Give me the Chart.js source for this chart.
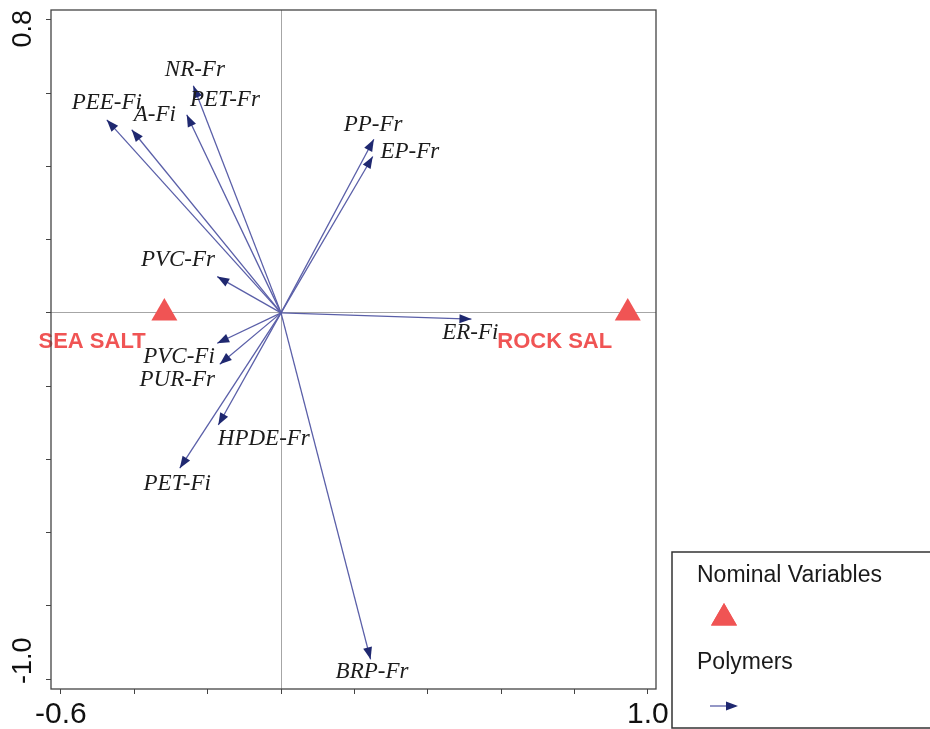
<!DOCTYPE html>
<html>
<head>
<meta charset="utf-8">
<script src="https://cdn.jsdelivr.net/npm/chart.js@4.4.1/dist/chart.umd.min.js"></script>
<style>
  html, body { margin: 0; padding: 0; background: #fff; }
  canvas { display: block; }
</style>
</head>
<body>
<canvas id="biplot" width="930" height="729"></canvas>
<script>
// polymer vectors (arrow tips) and where their names sit
const polymerNames = ['PEE-Fi', 'A-Fi', 'PET-Fr', 'NR-Fr', 'PVC-Fr', 'PVC-Fi', 'PUR-Fr',
                      'HPDE-Fr', 'PET-Fi', 'PP-Fr', 'EP-Fr', 'ER-Fi', 'BRP-Fr'];
const tipX = [-0.475, -0.407, -0.257, -0.239, -0.174, -0.174, -0.167, -0.171, -0.276, 0.253, 0.250, 0.519, 0.244];
const tipY = [0.527, 0.500, 0.541, 0.620, 0.099, -0.083, -0.140, -0.306, -0.424, 0.474, 0.427, -0.017, -0.946];
const labelX = [-0.475, -0.344, -0.153, -0.235, -0.281, -0.278, -0.283, -0.047, -0.283, 0.251, 0.351, 0.516, 0.248];
const labelY = [0.573, 0.541, 0.581, 0.663, 0.145, -0.120, -0.182, -0.345, -0.468, 0.513, 0.440, -0.055, -0.981];

// nominal variables
const saltNames = ['SEA SALT', 'ROCK SAL'];
const saltX = [-0.318, 0.945];
const saltY = [0, 0];
const saltLabelX = [-0.515, 0.746];
const saltLabelY = [-0.078, -0.078];

// only these ticks carry a label
const xTickLabels = ['-0.6', '1.0'];
const yTickLabels = ['0.8', '-1.0'];

const LINE_COLOR = '#5a5fa8';
const HEAD_COLOR = '#1f2870';
const SALT_COLOR = '#f05454';
const NUM_FONT = "'Liberation Sans', Arial, sans-serif";

function drawHead(ctx, x0, y0, x1, y1) {
    const ang = Math.atan2(y1 - y0, x1 - x0);
    const len = 12, half = 4.5;
    ctx.save();
    ctx.translate(x1, y1);
    ctx.rotate(ang);
    ctx.beginPath();
    ctx.moveTo(0, 0);
    ctx.lineTo(-len, -half);
    ctx.lineTo(-len, half);
    ctx.closePath();
    ctx.fillStyle = HEAD_COLOR;
    ctx.fill();
    ctx.restore();
}

const datasets = polymerNames.map((name, i) => ({
    label: name,
    data: [{x: 0, y: 0}, {x: tipX[i], y: tipY[i]}],
    showLine: true,
    borderColor: LINE_COLOR,
    borderWidth: 1.3,
    pointRadius: 0,
    isArrow: true
}));
datasets.push({
    label: 'Nominal Variables',
    data: saltX.map((x, i) => ({x: x, y: saltY[i]})),
    pointStyle: 'triangle',
    pointRadius: 15,
    backgroundColor: SALT_COLOR,
    borderWidth: 0
});

const biplotExtras = {
    id: 'biplotExtras',
    afterDatasetsDraw(chart) {
        const ctx = chart.ctx;
        const xs = chart.scales.x, ys = chart.scales.y;
        const area = chart.chartArea;

        // arrow heads
        chart.data.datasets.forEach((ds, i) => {
            if (!ds.isArrow) return;
            const pts = chart.getDatasetMeta(i).data;
            drawHead(ctx, pts[0].x, pts[0].y, pts[1].x, pts[1].y);
        });

        // polymer names
        ctx.save();
        ctx.font = "italic 23px 'Liberation Serif', 'Times New Roman', serif";
        ctx.fillStyle = '#1c1c1c';
        ctx.textAlign = 'center';
        ctx.textBaseline = 'middle';
        polymerNames.forEach((n, i) => {
            ctx.fillText(n, xs.getPixelForValue(labelX[i]), ys.getPixelForValue(labelY[i]));
        });

        // nominal variable names
        ctx.font = "bold 22px 'Liberation Sans', Arial, sans-serif";
        ctx.fillStyle = SALT_COLOR;
        saltNames.forEach((n, i) => {
            ctx.fillText(n, xs.getPixelForValue(saltLabelX[i]), ys.getPixelForValue(saltLabelY[i]));
        });
        ctx.restore();

        // frame
        ctx.save();
        ctx.strokeStyle = '#444';
        ctx.lineWidth = 1.3;
        ctx.strokeRect(area.left, area.top, area.right - area.left, area.bottom - area.top);
        ctx.restore();

        // rotated y labels, kept inside the axis span
        ctx.save();
        ctx.font = '27px ' + NUM_FONT;
        ctx.fillStyle = '#111';
        ctx.textAlign = 'center';
        ctx.textBaseline = 'middle';
        yTickLabels.forEach(t => {
            const hw = ctx.measureText(t).width / 2;
            let cy = ys.getPixelForValue(parseFloat(t));
            cy = Math.max(area.top + hw, Math.min(area.bottom - hw - 5, cy));
            ctx.save();
            ctx.translate(24, cy);
            ctx.rotate(-Math.PI / 2);
            ctx.fillText(t, 0, 0);
            ctx.restore();
        });
        ctx.restore();

        // legend box
        const lx = area.right + 16, ly = area.bottom - 137;
        ctx.save();
        ctx.strokeStyle = '#333';
        ctx.lineWidth = 1.5;
        ctx.strokeRect(lx, ly, 300, 176);
        ctx.font = "23px 'Liberation Sans', Arial, sans-serif";
        ctx.fillStyle = '#1a1a1a';
        ctx.textAlign = 'left';
        ctx.textBaseline = 'middle';
        ctx.fillText('Nominal Variables', lx + 25, ly + 24);
        ctx.fillText('Polymers', lx + 25, ly + 111);
        ctx.fillStyle = SALT_COLOR;
        Chart.helpers.drawPoint(ctx, {pointStyle: 'triangle', radius: 15, rotation: 0, borderWidth: 0}, lx + 52, ly + 66);
        ctx.fill();
        ctx.beginPath();
        ctx.strokeStyle = LINE_COLOR;
        ctx.lineWidth = 1.3;
        ctx.moveTo(lx + 38, ly + 154);
        ctx.lineTo(lx + 64, ly + 154);
        ctx.stroke();
        drawHead(ctx, lx + 38, ly + 154, lx + 66, ly + 154);
        ctx.restore();
    }
};

function zeroGrid(c) {
    return c.tick && Math.abs(c.tick.value) < 1e-9 ? '#a6a6a6' : 'rgba(0,0,0,0)';
}

new Chart(document.getElementById('biplot'), {
    type: 'scatter',
    data: { datasets: datasets },
    options: {
        responsive: false,
        animation: false,
        devicePixelRatio: 1,
        layout: { autoPadding: false, padding: { left: 0, top: 10, right: 274, bottom: 0 } },
        plugins: { legend: { display: false }, tooltip: { enabled: false } },
        scales: {
            x: {
                type: 'linear',
                min: -0.627,
                max: 1.022,
                afterFit: s => { s.height = 40; },
                border: { display: false },
                grid: { color: zeroGrid, lineWidth: 1, drawTicks: true, tickLength: 5, tickColor: '#444', tickWidth: 1 },
                ticks: {
                    stepSize: 0.2,
                    includeBounds: false,
                    maxRotation: 0,
                    autoSkip: false,
                    padding: 3,
                    color: '#111',
                    font: { family: NUM_FONT, size: 30 },
                    callback: v => {
                        const t = (Math.round(v * 10) / 10).toFixed(1);
                        return xTickLabels.includes(t) ? t : '';
                    }
                }
            },
            y: {
                type: 'linear',
                min: -1.027,
                max: 0.827,
                afterFit: s => { s.width = 51; },
                border: { display: false },
                grid: { color: zeroGrid, lineWidth: 1, drawTicks: true, tickLength: 5, tickColor: '#444', tickWidth: 1 },
                ticks: {
                    stepSize: 0.2,
                    includeBounds: false,
                    autoSkip: false,
                    font: { size: 2 },
                    callback: () => ''
                }
            }
        }
    },
    plugins: [biplotExtras]
});
</script>
</body>
</html>
